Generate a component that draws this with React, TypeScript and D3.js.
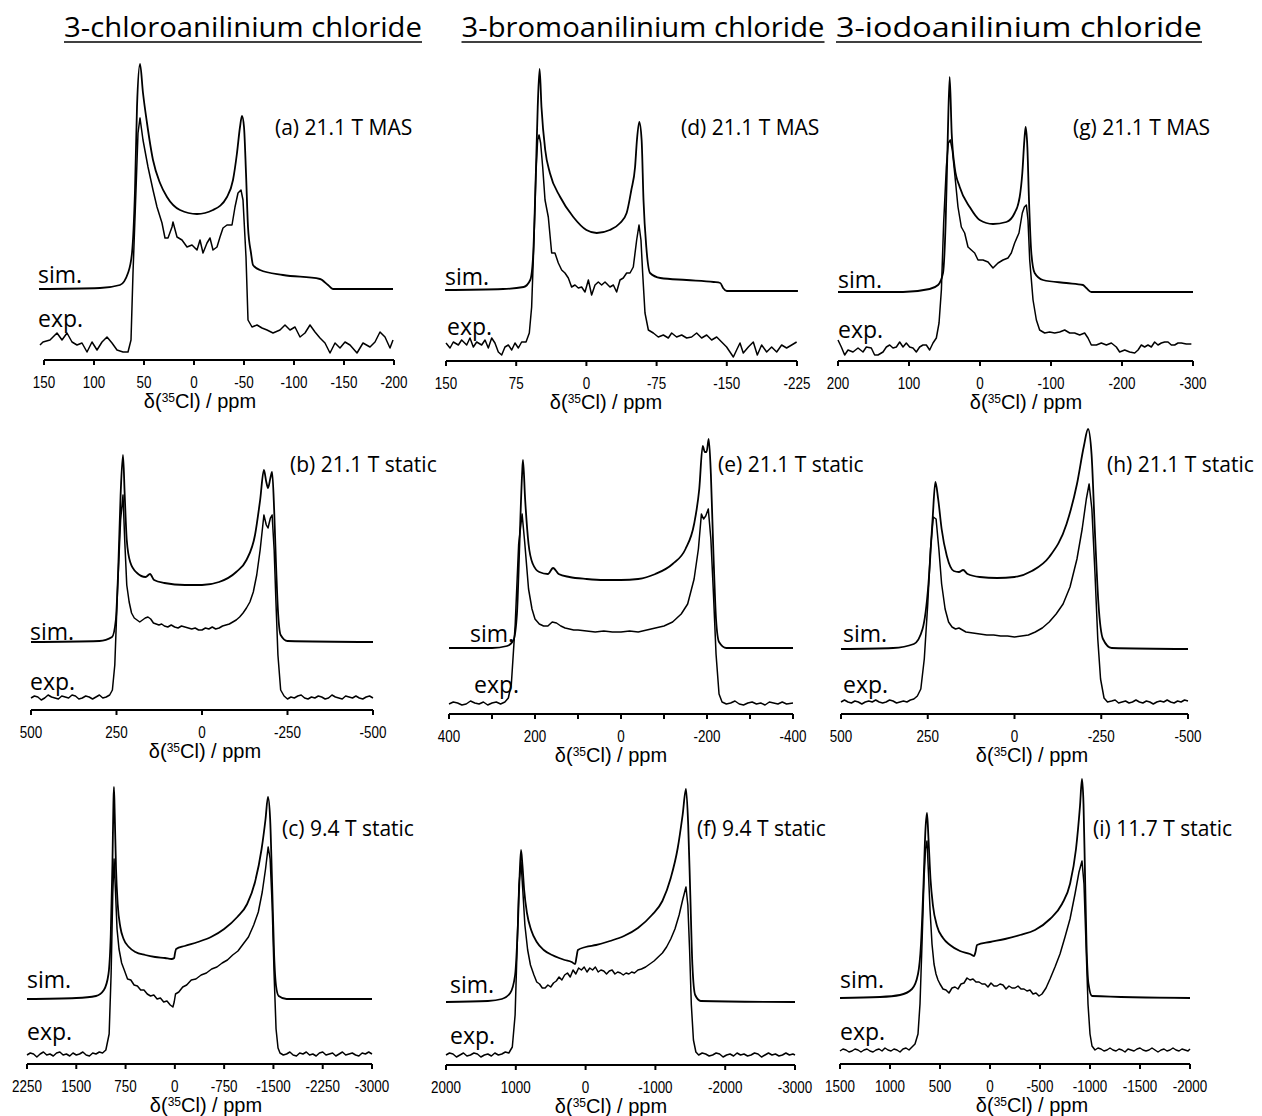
import React from 'react';
import * as d3 from 'd3';

type Pt = [number, number];

const compounds = ['3-chloroanilinium chloride', '3-bromoanilinium chloride', '3-iodoanilinium chloride'];
const panelTexts = ['(a) 21.1 T MAS', '(b) 21.1 T static', '(c) 9.4 T static', '(d) 21.1 T MAS', '(e) 21.1 T static', '(f) 9.4 T static', '(g) 21.1 T MAS', '(h) 21.1 T static', '(i) 11.7 T static'];

const ticksA = [150, 100, 50, 0, -50, -100, -150, -200];
const ticksB = [500, 250, 0, -250, -500];
const ticksC = [2250, 1500, 750, 0, -750, -1500, -2250, -3000];
const ticksD = [150, 75, 0, -75, -150, -225];
const ticksE = [400, 300, 200, 100, 0, -100, -200, -300, -400];
const labelsE = [400, 200, 0, -200, -400];
const ticksF = [2000, 1000, 0, -1000, -2000, -3000];
const ticksG = [200, 100, 0, -100, -200, -300];
const ticksH = [500, 250, 0, -250, -500];
const ticksI = [1500, 1000, 500, 0, -500, -1000, -1500, -2000];

// [ppm, intensity]
const simA: Pt[] = [[155,71],[94,72],[74,75],[66,87],[62,107],[59,170],[57,253],[54,296],[51,267],[47,237],[41,200],[34,177],[27,163],[14,150],[-3,146],[-19,150],[-33,163],[-39,180],[-43,207],[-46,233],[-48,244],[-50,233],[-52,187],[-54,133],[-57,107],[-59,95],[-66,90],[-89,85],[-126,81],[-134,75],[-139,71],[-199,71]];
const expA: Pt[] = [[154,15],[151,18],[144,20],[137,27],[132,20],[127,27],[122,18],[117,15],[112,17],[107,8],[102,18],[97,10],[92,18],[87,23],[82,17],[77,10],[71,8],[66,8],[63,20],[61,87],[58,170],[56,227],[54,242],[51,220],[46,193],[41,170],[37,153],[32,137],[29,122],[26,122],[22,133],[21,138],[17,123],[12,120],[7,113],[2,115],[-3,110],[-6,120],[-9,107],[-13,117],[-16,122],[-19,110],[-23,113],[-26,123],[-29,132],[-33,135],[-38,135],[-41,153],[-44,167],[-47,170],[-49,160],[-52,103],[-54,40],[-58,33],[-63,35],[-68,32],[-73,30],[-79,27],[-86,30],[-91,35],[-96,30],[-101,33],[-106,23],[-111,27],[-116,35],[-121,28],[-126,22],[-131,17],[-136,7],[-141,17],[-146,12],[-151,18],[-156,15],[-163,7],[-169,17],[-176,13],[-181,18],[-186,28],[-191,23],[-196,12],[-199,20]];

const simB: Pt[] = [[500,68],[300,69],[263,73],[252,90],[245,140],[238,215],[231,255],[226,215],[220,170],[210,148],[190,137],[165,133],[152,136],[140,130],[110,127],[50,125],[0,125],[-50,128],[-100,138],[-130,150],[-155,175],[-170,210],[-181,240],[-188,228],[-193,222],[-200,232],[-205,238],[-211,200],[-216,150],[-222,100],[-230,75],[-250,69],[-500,68]];
const expB: Pt[] = [[500,12],[490,14],[480,13],[470,10],[460,12],[450,15],[440,13],[430,12],[420,11],[410,14],[400,13],[390,12],[380,15],[370,14],[360,11],[350,12],[340,14],[330,13],[320,11],[310,13],[300,15],[290,12],[280,13],[270,15],[262,20],[255,45],[247,120],[238,190],[231,215],[226,170],[220,125],[213,108],[206,97],[198,92],[190,90],[182,88],[174,90],[166,92],[158,93],[150,91],[142,87],[134,86],[126,85],[118,86],[110,84],[100,83],[90,85],[80,83],[70,82],[60,84],[50,83],[40,82],[30,81],[20,82],[10,80],[0,80],[-10,82],[-20,81],[-30,83],[-40,81],[-50,82],[-60,84],[-70,85],[-80,86],[-90,88],[-100,90],[-110,93],[-120,97],[-130,102],[-140,108],[-150,118],[-160,135],[-170,160],[-181,195],[-188,185],[-193,182],[-200,192],[-205,195],[-211,160],[-216,110],[-222,55],[-230,20],[-240,14],[-250,11],[-260,13],[-270,12],[-280,14],[-290,15],[-300,12],[-310,11],[-320,13],[-330,12],[-340,14],[-350,13],[-360,11],[-370,12],[-380,15],[-390,13],[-400,12],[-410,11],[-420,14],[-430,13],[-440,12],[-450,14],[-460,12],[-470,11],[-480,13],[-490,14],[-500,12]];

const simC: Pt[] = [[2250,65],[1500,66],[1200,68],[1080,74],[1010,90],[975,130],[950,200],[935,260],[927,277],[915,250],[895,195],[870,160],[830,137],[780,125],[700,117],[600,112],[450,109],[300,107],[150,106],[50,105],[10,106],[0,110],[-20,115],[-150,118],[-350,122],[-550,127],[-750,135],[-950,147],[-1100,160],[-1220,182],[-1320,215],[-1380,245],[-1417,267],[-1450,245],[-1480,180],[-1510,110],[-1540,78],[-1580,68],[-1700,65],[-3000,65]];
const expC: Pt[] = [[2250,9],[2200,11],[2150,10],[2100,7],[2050,10],[2000,12],[1950,9],[1900,10],[1850,8],[1800,11],[1750,12],[1700,9],[1650,10],[1600,8],[1550,11],[1500,9],[1450,10],[1400,12],[1350,9],[1300,8],[1250,11],[1200,10],[1150,12],[1100,11],[1050,14],[1000,30],[970,90],[945,170],[925,205],[905,175],[880,135],[850,115],[810,101],[770,94],[720,85],[670,84],[620,79],[570,78],[520,74],[470,74],[420,70],[370,68],[320,69],[270,65],[220,66],[170,62],[120,63],[70,59],[30,57],[10,62],[-10,70],[-60,72],[-120,77],[-180,79],[-250,84],[-320,85],[-400,89],[-480,91],[-560,95],[-640,97],[-720,101],[-800,104],[-880,109],[-960,113],[-1040,120],[-1120,127],[-1200,139],[-1270,152],[-1330,172],[-1380,195],[-1420,217],[-1450,205],[-1480,160],[-1510,90],[-1540,35],[-1570,16],[-1600,11],[-1650,9],[-1700,10],[-1750,12],[-1800,9],[-1850,8],[-1900,11],[-1950,10],[-2000,12],[-2050,9],[-2100,10],[-2150,8],[-2200,11],[-2250,12],[-2300,9],[-2350,10],[-2400,11],[-2450,8],[-2500,10],[-2550,12],[-2600,9],[-2650,10],[-2700,11],[-2750,9],[-2800,8],[-2850,11],[-2900,10],[-2950,12],[-3000,10]];

const simD: Pt[] = [[151,71],[89,72],[67,74],[60,81],[57,104],[54,188],[52,254],[50,292],[48,254],[44,211],[39,188],[28,164],[14,144],[0,131],[-11,128],[-25,131],[-36,138],[-43,148],[-48,171],[-52,194],[-54,221],[-56.5,239],[-59,221],[-61,161],[-64,114],[-68,88],[-79,83],[-107,81],[-136,79],[-143,78],[-146,73],[-150,70],[-226,70]];
const expD: Pt[] = [[150,18],[145.7,13],[142.2,19],[136.8,16],[133.3,21],[127.9,16],[124.4,23],[120.8,14],[117.2,19],[111.9,16],[108.3,21],[104.8,13],[101.2,23],[97.7,18],[94.1,9],[90.5,6],[87,14],[83.4,16],[79.8,11],[76.3,18],[72.7,13],[69.2,19],[64.5,19],[61,28],[58.5,54],[56,121],[53.9,188],[52.1,221],[50.6,226],[48.9,218],[46.7,194],[44.2,161],[40.7,144],[37.1,108],[33.6,108],[30,98],[26.4,91],[22.9,88],[19.3,83],[15.8,74],[12.2,76],[8.6,73],[5.1,74],[1.5,69],[-2.1,81],[-5.6,66],[-9.2,76],[-12.7,79],[-16.3,76],[-19.9,79],[-25.2,74],[-28.8,76],[-32.3,69],[-35.9,81],[-39.4,83],[-43,88],[-46.6,88],[-50.1,94],[-53.7,121],[-56.2,136],[-58.3,121],[-60.1,88],[-62.6,48],[-66.2,31],[-71.5,28],[-76.8,24],[-82.2,26],[-87.5,23],[-91.1,28],[-96.4,24],[-101.8,26],[-107.1,23],[-112.4,24],[-117.8,28],[-123.1,23],[-128.5,26],[-133.8,21],[-139.2,24],[-144.5,19],[-149.8,14],[-153.4,9],[-157,4],[-160.5,11],[-164.1,18],[-167.6,8],[-173,14],[-178.3,19],[-182.6,6],[-187.2,16],[-192.6,9],[-197.9,14],[-203.3,9],[-208.6,16],[-213.9,13],[-219.3,16],[-224.6,19]];

const simE: Pt[] = [[400,66],[300,66],[265,68],[250,74],[242,100],[236,170],[230,240],[228,254],[223,215],[215,170],[205,150],[190,142],[170,140],[158,146],[145,140],[120,137],[80,135],[40,134],[0,134],[-40,135],[-80,140],[-120,150],[-150,165],[-170,190],[-182,225],[-190,268],[-195,262],[-199,262],[-204,275],[-209,240],[-215,160],[-221,95],[-228,72],[-245,66],[-400,66]];
const expE: Pt[] = [[400,10],[390,12],[380,11],[370,9],[360,10],[350,13],[340,11],[330,10],[320,12],[310,9],[300,11],[290,12],[280,10],[270,12],[262,16],[255,30],[246,90],[238,170],[230,200],[224,172],[215,125],[207,105],[200,95],[190,90],[180,88],[170,88],[160,92],[150,91],[140,88],[130,86],[120,85],[110,84],[100,84],[80,83],[60,82],[40,83],[20,82],[0,82],[-20,83],[-40,82],[-60,84],[-80,86],[-100,88],[-120,92],[-140,100],[-155,110],[-170,135],[-180,165],[-187,200],[-192,195],[-197,198],[-203,205],[-209,175],[-215,120],[-221,60],[-228,20],[-235,12],[-245,10],[-255,11],[-265,13],[-275,10],[-285,9],[-295,11],[-305,12],[-315,10],[-325,11],[-335,9],[-345,12],[-355,11],[-365,10],[-375,12],[-385,10],[-400,11]];

const simF: Pt[] = [[2000,63],[1400,64],[1200,66],[1080,72],[1010,90],[970,140],[945,190],[925,215],[905,200],[880,175],[840,152],[780,135],[700,123],[600,115],[480,110],[380,107],[300,105],[200,103],[150,101],[130,108],[110,115],[0,118],[-150,120],[-350,124],[-550,129],[-750,137],[-950,150],[-1100,164],[-1220,187],[-1320,217],[-1390,250],[-1438,276],[-1470,240],[-1500,170],[-1530,100],[-1570,70],[-1650,64],[-3000,63]];
const expF: Pt[] = [[2000,10],[1950,12],[1900,11],[1850,8],[1800,10],[1750,12],[1700,9],[1650,10],[1600,12],[1550,11],[1500,8],[1450,10],[1400,11],[1350,9],[1300,12],[1250,10],[1200,11],[1150,13],[1100,12],[1050,18],[1010,50],[980,120],[955,180],[925,203],[900,175],[870,140],[830,115],[790,100],[740,90],[700,83],[660,81],[620,77],[580,77],[540,80],[500,78],[460,82],[420,84],[380,88],[340,85],[300,90],[260,92],[220,88],[180,95],[140,91],[100,97],[60,95],[20,98],[-20,93],[-60,97],[-100,95],[-140,98],[-180,93],[-220,95],[-260,94],[-300,91],[-340,94],[-380,95],[-420,91],[-460,93],[-500,92],[-540,90],[-580,92],[-620,91],[-660,93],[-700,92],[-750,95],[-800,96],[-860,98],[-920,101],[-980,104],[-1040,108],[-1100,112],[-1160,118],[-1220,126],[-1280,136],[-1340,150],[-1390,165],[-1438,178],[-1465,160],[-1490,115],[-1515,60],[-1545,25],[-1580,13],[-1620,10],[-1670,12],[-1720,11],[-1770,9],[-1820,10],[-1870,12],[-1920,11],[-1970,8],[-2020,10],[-2070,11],[-2120,9],[-2170,12],[-2220,10],[-2270,11],[-2320,9],[-2370,10],[-2420,12],[-2470,11],[-2520,8],[-2570,10],[-2620,12],[-2670,10],[-2720,11],[-2770,9],[-2820,10],[-2870,12],[-2920,10],[-2970,11],[-3000,10]];

const simG: Pt[] = [[200,69],[108.4,69],[70.9,72],[59.1,76],[52.1,88],[48.4,138],[45.5,221],[42.7,284],[39.9,228],[35.7,194],[28.6,174],[14.5,154],[0.5,141],[-18.3,137],[-37.1,139],[-48.8,148],[-55.9,164],[-59.6,188],[-62.5,221],[-64.3,234],[-66.7,214],[-69,161],[-72.3,108],[-77,88],[-88.7,81],[-121.6,78],[-145.1,76],[-149.8,73],[-156.8,69],[-300,69]];
const expG: Pt[] = [[200,21],[195.3,14],[190.6,6],[185.9,11],[178.9,9],[171.8,13],[164.8,9],[160.1,14],[153.1,13],[148.4,6],[143.7,6],[136.6,9],[131.9,14],[127.2,16],[122.5,13],[117.8,14],[113.1,19],[108.4,14],[103.8,18],[99.1,14],[94.4,13],[89.7,9],[85,14],[80.3,16],[75.6,16],[70.9,11],[66.2,18],[61.5,23],[57.7,38],[54.4,71],[51.2,138],[47.4,194],[44.6,218],[41.8,221],[39,211],[35.7,188],[31,154],[26.3,134],[21.6,128],[16.9,114],[12.2,111],[7.5,108],[2.8,101],[-4.2,101],[-11.3,99],[-18.3,93],[-25.4,98],[-32.4,101],[-39.4,103],[-44.1,108],[-48.8,118],[-54.9,128],[-59.6,148],[-62.5,154],[-65.3,156],[-67.6,141],[-70,101],[-74.7,61],[-79.4,41],[-84,31],[-91.1,28],[-98.1,29],[-105.2,28],[-112.2,29],[-119.3,31],[-126.3,28],[-133.3,28],[-140.4,26],[-147.4,28],[-152.1,23],[-156.8,16],[-163.9,16],[-170.9,18],[-178,16],[-185,18],[-192,14],[-196.7,9],[-203.8,11],[-210.8,9],[-217.9,8],[-222.6,11],[-227.2,16],[-231.9,14],[-236.6,16],[-241.3,14],[-246,19],[-250.7,16],[-255.4,18],[-260.1,19],[-264.8,19],[-269.5,16],[-274.2,16],[-278.9,18],[-283.6,18],[-290.6,17],[-297.7,17]];

const simH: Pt[] = [[500,65],[350,66],[290,70],[265,85],[248,130],[236,195],[228,232],[220,215],[210,185],[195,158],[175,143],[160,142],[148,144],[135,140],[100,137],[50,136],[0,137],[-50,143],[-100,157],[-150,190],[-180,230],[-200,268],[-212,285],[-222,260],[-232,180],[-242,110],[-255,75],[-280,66],[-500,65]];
const expH: Pt[] = [[500,12],[490,14],[480,12],[470,11],[460,13],[450,12],[440,10],[430,12],[420,13],[410,12],[400,14],[390,12],[380,11],[370,12],[360,14],[350,13],[340,11],[330,12],[320,13],[310,12],[300,14],[290,15],[280,18],[270,25],[260,55],[250,110],[242,165],[234,197],[226,195],[218,165],[210,130],[200,105],[190,92],[180,87],[170,85],[160,86],[150,84],[140,82],[120,81],[100,80],[80,79],[60,79],[40,78],[20,78],[0,77],[-20,78],[-40,79],[-60,82],[-80,86],[-100,92],[-120,100],[-140,110],[-160,127],[-180,155],[-195,185],[-207,215],[-215,230],[-223,205],[-232,140],[-240,75],[-248,35],[-258,16],[-268,12],[-280,13],[-290,14],[-300,11],[-310,12],[-320,13],[-330,11],[-340,12],[-350,14],[-360,12],[-370,11],[-380,13],[-390,12],[-400,10],[-410,12],[-420,13],[-430,12],[-440,14],[-450,12],[-460,11],[-470,13],[-480,12],[-490,14],[-500,13]];

const simI: Pt[] = [[1500,66],[1100,67],[900,69],[780,75],[720,90],[690,120],[665,180],[645,235],[630,251],[615,225],[595,185],[570,158],[530,138],[470,126],[400,119],[300,113],[200,110],[160,108],[145,112],[130,119],[0,122],[-150,125],[-300,129],[-450,134],[-600,145],[-720,160],[-800,180],[-860,215],[-900,258],[-920,285],[-935,260],[-950,190],[-965,120],[-985,80],[-1020,68],[-2000,66]];
const expI: Pt[] = [[1500,13],[1470,15],[1440,14],[1410,12],[1380,13],[1350,15],[1320,14],[1290,12],[1260,14],[1230,15],[1200,13],[1170,12],[1140,14],[1110,15],[1080,13],[1050,16],[1020,14],[990,13],[960,15],[930,14],[900,12],[870,15],[840,16],[810,14],[780,17],[750,20],[720,30],[700,60],[680,120],[660,185],[645,215],[630,223],[615,190],[600,155],[580,120],[560,100],[540,90],[520,84],[500,80],[470,75],[440,74],[410,71],[380,76],[350,77],[320,75],[290,80],[260,81],[230,86],[200,84],[170,85],[140,82],[110,82],[80,80],[50,80],[20,77],[-10,81],[-40,78],[-70,78],[-100,80],[-130,79],[-160,75],[-190,78],[-220,76],[-250,76],[-280,78],[-310,75],[-340,75],[-370,73],[-400,74],[-430,70],[-460,71],[-490,68],[-520,70],[-560,76],[-600,85],[-650,97],[-700,110],[-750,127],[-800,145],[-850,170],[-890,192],[-920,203],[-940,180],[-960,120],[-980,60],[-1000,30],[-1020,18],[-1050,14],[-1080,16],[-1110,15],[-1140,13],[-1170,14],[-1200,16],[-1230,14],[-1260,13],[-1290,15],[-1320,14],[-1350,12],[-1380,15],[-1410,14],[-1440,13],[-1470,15],[-1500,16],[-1530,14],[-1560,13],[-1590,14],[-1620,16],[-1650,14],[-1680,12],[-1710,14],[-1740,15],[-1770,13],[-1800,14],[-1830,16],[-1860,14],[-1890,13],[-1920,15],[-1950,14],[-1980,13],[-2000,15]];

interface Panel {
  sim: Pt[]; exp: Pt[]; text: string;
  domain: [number, number]; x0: number; x1: number; axisY: number;
  ticks: number[]; labels: number[];
  textX: number; textY: number; simLX: number; simLY: number; expLX: number; expLY: number;
  titleX: number;
}

const panels: Panel[] = [
  { sim: simA, exp: expA, text: panelTexts[0], domain: [150, -200], x0: 44, x1: 394, axisY: 360, ticks: ticksA, labels: ticksA, textX: 275, textY: 135, simLX: 38, simLY: 283, expLX: 38, expLY: 327, titleX: 200 },
  { sim: simB, exp: expB, text: panelTexts[1], domain: [500, -500], x0: 31, x1: 373, axisY: 710, ticks: ticksB, labels: ticksB, textX: 290, textY: 472, simLX: 30, simLY: 640, expLX: 30, expLY: 690, titleX: 205 },
  { sim: simC, exp: expC, text: panelTexts[2], domain: [2250, -3000], x0: 27, x1: 372, axisY: 1064, ticks: ticksC, labels: ticksC, textX: 282, textY: 836, simLX: 27, simLY: 988, expLX: 27, expLY: 1040, titleX: 206 },
  { sim: simD, exp: expD, text: panelTexts[3], domain: [150, -225], x0: 446, x1: 797, axisY: 361, ticks: ticksD, labels: ticksD, textX: 681, textY: 135, simLX: 445, simLY: 285, expLX: 447, expLY: 335, titleX: 606 },
  { sim: simE, exp: expE, text: panelTexts[4], domain: [400, -400], x0: 449, x1: 793, axisY: 714, ticks: ticksE, labels: labelsE, textX: 718, textY: 472, simLX: 470, simLY: 642, expLX: 474, expLY: 693, titleX: 611 },
  { sim: simF, exp: expF, text: panelTexts[5], domain: [2000, -3000], x0: 446, x1: 795, axisY: 1065, ticks: ticksF, labels: ticksF, textX: 697, textY: 836, simLX: 450, simLY: 993, expLX: 450, expLY: 1044, titleX: 611 },
  { sim: simG, exp: expG, text: panelTexts[6], domain: [200, -300], x0: 838, x1: 1193, axisY: 361, ticks: ticksG, labels: ticksG, textX: 1073, textY: 135, simLX: 838, simLY: 288, expLX: 838, expLY: 338, titleX: 1026 },
  { sim: simH, exp: expH, text: panelTexts[7], domain: [500, -500], x0: 841, x1: 1188, axisY: 714, ticks: ticksH, labels: ticksH, textX: 1107, textY: 472, simLX: 843, simLY: 642, expLX: 843, expLY: 693, titleX: 1032 },
  { sim: simI, exp: expI, text: panelTexts[8], domain: [1500, -2000], x0: 840, x1: 1190, axisY: 1064, ticks: ticksI, labels: ticksI, textX: 1093, textY: 836, simLX: 840, simLY: 988, expLX: 840, expLY: 1040, titleX: 1032 },
];

const titleCenters = [243, 643, 1019];
const titleWidths = [358, 363, 366];
const SANS = 'Open Sans, Noto Sans, sans-serif';
const ARIAL = 'Liberation Sans, Arial, sans-serif';

function PanelView({ p }: { p: Panel }) {
  const xs = d3.scaleLinear().domain(p.domain).range([p.x0, p.x1]);
  const ys = d3.scaleLinear().domain([0, 300]).range([p.axisY, p.axisY - 300]);
  const simLine = d3.line<Pt>().x(d => xs(d[0])).y(d => ys(d[1])).curve(d3.curveMonotoneX);
  const expLine = d3.line<Pt>().x(d => xs(d[0])).y(d => ys(d[1]));
  return (
    <g>
      <path d={simLine(p.sim) || ''} fill="none" stroke="#000" strokeWidth={1.8} strokeLinejoin="round" />
      <path d={expLine(p.exp) || ''} fill="none" stroke="#000" strokeWidth={1.5} strokeLinejoin="round" />
      <line x1={p.x0} x2={p.x1} y1={p.axisY} y2={p.axisY} stroke="#000" strokeWidth={2} />
      {p.ticks.map(t => (
        <line key={t} x1={xs(t)} x2={xs(t)} y1={p.axisY} y2={p.axisY + 5} stroke="#000" strokeWidth={2} />
      ))}
      {p.labels.map(t => (
        <text key={'l' + t} transform={`translate(${xs(t)},${p.axisY + 28}) scale(0.84,1)`} textAnchor="middle" fontFamily={ARIAL} fontSize={16}>{String(t)}</text>
      ))}
      <text x={p.titleX} y={p.axisY + 48} textAnchor="middle" fontFamily={ARIAL} fontSize={20}>
        δ(<tspan fontSize={12} dy={-6}>35</tspan><tspan dy={6}>Cl) / ppm</tspan>
      </text>
      <text x={p.textX} y={p.textY} fontFamily={SANS} fontSize={21}>{p.text}</text>
      <text x={p.simLX} y={p.simLY} fontFamily={SANS} fontSize={23}>sim.</text>
      <text x={p.expLX} y={p.expLY} fontFamily={SANS} fontSize={23}>exp.</text>
    </g>
  );
}

export default function App() {
  return (
    <svg width={1262} height={1116} style={{ position: 'absolute', left: 0, top: 0, background: '#fff' }}>
      <rect width={1262} height={1116} fill="#fff" />
      {compounds.map((c, i) => (
        <g key={c}>
          <text x={titleCenters[i]} y={37} textAnchor="middle" fontFamily={SANS} fontSize={28} textLength={titleWidths[i]} lengthAdjust="spacingAndGlyphs">{c}</text>
          <line x1={titleCenters[i] - titleWidths[i] / 2} x2={titleCenters[i] + titleWidths[i] / 2} y1={42} y2={42} stroke="#000" strokeWidth={1.6} />
        </g>
      ))}
      {panels.map((p, i) => <PanelView key={i} p={p} />)}
    </svg>
  );
}
